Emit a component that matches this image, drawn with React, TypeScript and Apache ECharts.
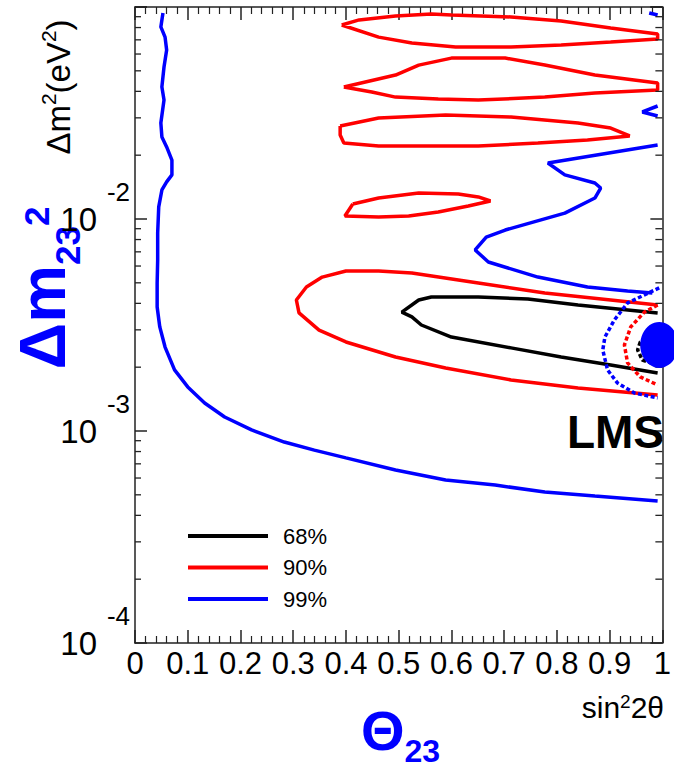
import React, { useEffect, useRef } from "react";
import * as echarts from "echarts";

// Contour points: [sin²2θ, log10(Δm² / eV²)]
const C68_MAIN: number[][] = [
  [0.991, -2.443], [0.84, -2.406], [0.745, -2.377], [0.651, -2.368], [0.562, -2.368],
  [0.538, -2.382], [0.506, -2.439], [0.525, -2.462], [0.543, -2.5], [0.6, -2.557],
  [0.713, -2.608], [0.808, -2.651], [0.902, -2.689], [0.991, -2.726],
];
const C68_LMS: number[][] = [
  [0.991, -2.538], [0.958, -2.58], [0.953, -2.618], [0.962, -2.665], [0.991, -2.689],
];
const C90_MAIN: number[][] = [
  [0.991, -2.406], [0.902, -2.382], [0.777, -2.349], [0.651, -2.302], [0.525, -2.255],
  [0.462, -2.245], [0.4, -2.245], [0.355, -2.274], [0.325, -2.321], [0.306, -2.382],
  [0.311, -2.443], [0.349, -2.524], [0.4, -2.58], [0.494, -2.651], [0.589, -2.703],
  [0.713, -2.759], [0.84, -2.797], [0.991, -2.83],
];
const C90_ISLAND1: number[][] = [
  [0.392, -1.085], [0.425, -1.061], [0.494, -1.042], [0.562, -1.033], [0.6, -1.038],
  [0.713, -1.047], [0.808, -1.066], [0.902, -1.099], [0.991, -1.127], [0.991, -1.151],
  [0.902, -1.165], [0.808, -1.179], [0.713, -1.189], [0.608, -1.189], [0.525, -1.17],
  [0.462, -1.142], [0.392, -1.085],
];
const C90_ISLAND2: number[][] = [
  [0.396, -1.377], [0.494, -1.321], [0.538, -1.274], [0.6, -1.241], [0.702, -1.241],
  [0.777, -1.274], [0.872, -1.321], [0.991, -1.358], [0.991, -1.392], [0.872, -1.406],
  [0.777, -1.425], [0.651, -1.439], [0.575, -1.434], [0.494, -1.425], [0.449, -1.401],
  [0.396, -1.377],
];
const C90_ISLAND3: number[][] = [
  [0.389, -1.561], [0.462, -1.524], [0.589, -1.509], [0.713, -1.519], [0.84, -1.547],
  [0.902, -1.571], [0.938, -1.608], [0.858, -1.627], [0.764, -1.642], [0.651, -1.656],
  [0.575, -1.656], [0.462, -1.656], [0.396, -1.642], [0.389, -1.604], [0.389, -1.561],
];
const C90_ISLAND4: number[][] = [
  [0.413, -1.929], [0.462, -1.901], [0.538, -1.877], [0.613, -1.882], [0.651, -1.896],
  [0.674, -1.915], [0.632, -1.939], [0.575, -1.967], [0.519, -1.986], [0.462, -1.991],
  [0.398, -1.986], [0.413, -1.929],
];
const C90_LMS: number[][] = [
  [0.991, -2.406], [0.966, -2.439], [0.94, -2.509], [0.928, -2.594], [0.934, -2.679],
  [0.958, -2.745], [0.991, -2.783],
];
const C99_MAIN: number[][] = [
  [0.053, -1.028], [0.049, -1.094], [0.057, -1.142], [0.06, -1.203], [0.055, -1.283],
  [0.051, -1.377], [0.055, -1.439], [0.049, -1.547], [0.051, -1.613], [0.06, -1.66],
  [0.07, -1.722], [0.07, -1.792], [0.06, -1.825], [0.051, -1.863], [0.045, -1.943],
  [0.043, -2.066], [0.043, -2.193], [0.042, -2.302], [0.042, -2.415], [0.047, -2.509],
  [0.057, -2.604], [0.075, -2.712], [0.1, -2.792], [0.132, -2.868], [0.17, -2.934],
  [0.221, -2.995], [0.283, -3.052], [0.34, -3.09], [0.4, -3.127], [0.494, -3.184],
  [0.589, -3.231], [0.683, -3.255], [0.777, -3.288], [0.872, -3.307], [0.991, -3.33],
];
const C99_UPPER: number[][] = [
  [0.991, -1.651], [0.783, -1.736], [0.815, -1.792], [0.872, -1.83], [0.883, -1.854],
  [0.872, -1.901], [0.815, -1.972], [0.702, -2.052], [0.666, -2.085], [0.645, -2.146],
  [0.67, -2.203], [0.764, -2.274], [0.858, -2.321], [0.934, -2.34], [0.981, -2.349],
];
const C99_BIT_TOP: number[][] = [[0.975, -1.028], [0.991, -1.038]];
const C99_BIT_MID: number[][] = [[0.991, -1.467], [0.962, -1.495], [0.991, -1.514]];
const C99_LMS: number[][] = [
  [0.994, -2.325], [0.966, -2.358], [0.934, -2.396], [0.909, -2.476], [0.891, -2.557],
  [0.887, -2.618], [0.896, -2.712], [0.915, -2.774], [0.947, -2.821], [0.991, -2.844],
];
const LMS_BEST: number[] = [0.994, -2.594];

const LEVELS = ["68%", "90%", "99%"];
const X_MIN = 0;
const X_MAX = 1;
const X_STEP = 0.1;
const Y_MIN = 1e-4;
const Y_MAX = 1e-1;
const MINOR_MANTISSAS = [2, 3, 4, 5, 6, 7, 8, 9];
const MINOR_DECADES = [-4, -3, -2];

const BLACK = "#000000";
const RED = "#ff0000";
const BLUE = "#0000ff";
const AXIS = "#222222";
const SANS = "Liberation Sans, Arial, Helvetica, sans-serif";

function fontAvailable(name: string): boolean {
  const ctx = document.createElement("canvas").getContext("2d");
  if (!ctx) return false;
  const s = "mmmmmmmmmmlli0123456789";
  ctx.font = "40px monospace";
  const w1 = ctx.measureText(s).width;
  ctx.font = `40px "${name}", monospace`;
  const w2 = ctx.measureText(s).width;
  return Math.abs(w1 - w2) > 0.5;
}

const toPts = (arr: number[][]) => arr.map(([x, e]) => [x, Math.pow(10, e)]);

function contour(name: string, color: string, pts: number[][], dotted = false) {
  return {
    type: "line",
    name,
    data: toPts(pts),
    symbol: "none",
    showSymbol: false,
    smooth: false,
    silent: true,
    lineStyle: { color, width: 3.5, type: dotted ? [4, 2.5] : "solid" },
    itemStyle: { color },
    z: 3,
  };
}

export default function App() {
  const ref = useRef<HTMLDivElement>(null);

  useEffect(() => {
    if (!ref.current) return;
    const narrow = fontAvailable("Liberation Sans Narrow");
    const TICK_FONT = narrow ? "Liberation Sans Narrow, " + SANS : SANS;
    const xLabelSize = narrow ? 34 : 31;
    const yTenSize = narrow ? 36 : 33;
    const yExpSize = 26;

    const chart = echarts.init(ref.current, undefined, { renderer: "svg" });

    const minorTicks = MINOR_DECADES.flatMap((d) => MINOR_MANTISSAS.map((m) => [0, m * Math.pow(10, d)]));

    const xAxisBase = {
      type: "value",
      min: X_MIN,
      max: X_MAX,
      interval: X_STEP,
      splitLine: { show: false },
      axisLine: { show: true, onZero: false, lineStyle: { color: AXIS, width: 1.5 } },
      axisTick: { show: true, inside: true, length: 13, lineStyle: { color: AXIS, width: 1.5 } },
      minorTick: { show: true, splitNumber: 5, length: 7, lineStyle: { color: AXIS, width: 1.2 } },
    };
    const yAxisBase = {
      type: "log",
      logBase: 10,
      min: Y_MIN,
      max: Y_MAX,
      splitLine: { show: false },
      axisLine: { show: true, onZero: false, lineStyle: { color: AXIS, width: 1.5 } },
      axisTick: { show: true, inside: true, length: 12, lineStyle: { color: AXIS, width: 1.5 } },
      minorTick: { show: false },
    };

    const option: any = {
      animation: false,
      backgroundColor: "#ffffff",
      textStyle: { fontFamily: SANS },
      grid: { left: 135, right: 8, top: 7, bottom: 129, containLabel: false },
      xAxis: [
        {
          ...xAxisBase,
          position: "bottom",
          axisLabel: {
            show: true,
            margin: 5,
            color: BLACK,
            fontSize: xLabelSize,
            fontFamily: TICK_FONT,
            showMinLabel: true,
            showMaxLabel: true,
            formatter: (v: number) => String(Math.round(v * 10) / 10),
          },
        },
        { ...xAxisBase, position: "top", axisLabel: { show: false } },
      ],
      yAxis: [
        {
          ...yAxisBase,
          position: "left",
          axisLabel: {
            show: true,
            margin: 5,
            color: BLACK,
            fontSize: yExpSize,
            fontFamily: TICK_FONT,
            formatter: (v: number) => {
              const e = Math.round(Math.log10(v));
              if (e === -1) return "";
              return `{pow|${e}}\n{ten|10}\n{pow| }`;
            },
            rich: {
              pow: { fontSize: yExpSize, lineHeight: 24, fontFamily: TICK_FONT, color: BLACK },
              ten: { fontSize: yTenSize, lineHeight: 30, fontFamily: TICK_FONT, color: BLACK, padding: [0, 33, 0, 0] },
            },
          },
        },
        { ...yAxisBase, position: "right", axisLabel: { show: false } },
      ],
      legend: {
        data: LEVELS,
        orient: "vertical",
        left: 188,
        top: 525,
        padding: 0,
        icon: "rect",
        itemWidth: 80,
        itemHeight: 4,
        itemGap: 9.5,
        selectedMode: false,
        textStyle: { fontSize: 22, lineHeight: 22, fontFamily: SANS, color: BLACK, padding: [0, 0, 0, 10] },
      },
      series: [
        contour("68%", BLACK, C68_MAIN),
        contour("68%", BLACK, C68_LMS, true),
        contour("90%", RED, C90_MAIN),
        contour("90%", RED, C90_ISLAND1),
        contour("90%", RED, C90_ISLAND2),
        contour("90%", RED, C90_ISLAND3),
        contour("90%", RED, C90_ISLAND4),
        contour("90%", RED, C90_LMS, true),
        contour("99%", BLUE, C99_MAIN),
        contour("99%", BLUE, C99_UPPER),
        contour("99%", BLUE, C99_BIT_TOP),
        contour("99%", BLUE, C99_BIT_MID),
        contour("99%", BLUE, C99_LMS, true),
        {
          type: "scatter",
          name: "LMS best fit",
          data: [toPts([LMS_BEST])[0]],
          symbol: "circle",
          symbolSize: [38, 46],
          itemStyle: { color: BLUE, opacity: 1 },
          clip: false,
          silent: true,
          z: 6,
        },
        {
          type: "custom",
          name: "minor ticks",
          silent: true,
          clip: false,
          z: 5,
          data: minorTicks,
          encode: { x: 0, y: 1 },
          renderItem: (_params: any, api: any) => {
            const v = api.value(1);
            const pl = api.coord([X_MIN, v]);
            const pr = api.coord([X_MAX, v]);
            return {
              type: "group",
              children: [
                { type: "line", shape: { x1: pl[0], y1: pl[1], x2: pl[0] + 6, y2: pl[1] }, style: { stroke: AXIS, lineWidth: 1.3 } },
                { type: "line", shape: { x1: pr[0] - 7, y1: pr[1], x2: pr[0], y2: pr[1] }, style: { stroke: AXIS, lineWidth: 1.3 } },
              ],
            };
          },
        },
      ],
      graphic: [
        {
          type: "text",
          x: 58,
          y: 87,
          rotation: Math.PI / 2,
          style: {
            text: "{a|Δm}{s|2}{a|(eV}{s|2}{a|)}",
            align: "center",
            verticalAlign: "middle",
            rich: {
              a: { fontSize: 33, lineHeight: 40, fontFamily: SANS, fill: BLACK },
              s: { fontSize: 21, lineHeight: 21, fontFamily: SANS, fill: BLACK, verticalAlign: "top" },
            },
          },
        },
        {
          type: "text",
          x: 42,
          y: 288,
          rotation: Math.PI / 2,
          style: {
            text: "{a|Δm}{s|23}{p|2}",
            align: "center",
            verticalAlign: "middle",
            rich: {
              a: { fontSize: 65, lineHeight: 86, fontWeight: "bold", fontFamily: SANS, fill: BLUE },
              s: { fontSize: 35, lineHeight: 35, fontWeight: "bold", fontFamily: SANS, fill: BLUE, verticalAlign: "bottom" },
              p: { fontSize: 35, lineHeight: 35, fontWeight: "bold", fontFamily: SANS, fill: BLUE, verticalAlign: "top", padding: [20, 0, 0, 0] },
            },
          },
        },
        {
          type: "text",
          x: 664,
          y: 707,
          style: {
            text: "{a|sin}{s|2}{a|2θ}",
            align: "right",
            verticalAlign: "middle",
            rich: {
              a: { fontSize: 30, lineHeight: 30, fontFamily: SANS, fill: BLACK },
              s: { fontSize: 19, lineHeight: 19, fontFamily: SANS, fill: BLACK, verticalAlign: "top" },
            },
          },
        },
        {
          type: "text",
          x: 361,
          y: 730,
          style: {
            text: "{a|Θ}{s|23}",
            align: "left",
            verticalAlign: "middle",
            rich: {
              a: { fontSize: 56, lineHeight: 74, fontWeight: "bold", fontFamily: SANS, fill: BLUE },
              s: { fontSize: 32, lineHeight: 32, fontWeight: "bold", fontFamily: SANS, fill: BLUE, verticalAlign: "bottom" },
            },
          },
        },
        {
          type: "text",
          x: 664,
          y: 432,
          z: 10,
          style: {
            text: "LMS",
            align: "right",
            verticalAlign: "middle",
            fontSize: 46,
            fontWeight: "bold",
            fontFamily: SANS,
            fill: BLACK,
          },
        },
      ],
    };

    chart.setOption(option);
    return () => chart.dispose();
  }, []);

  return (
    <div
      ref={ref}
      style={{ position: "absolute", left: 0, top: 0, width: 674, height: 772, background: "#fff" }}
    />
  );
}
